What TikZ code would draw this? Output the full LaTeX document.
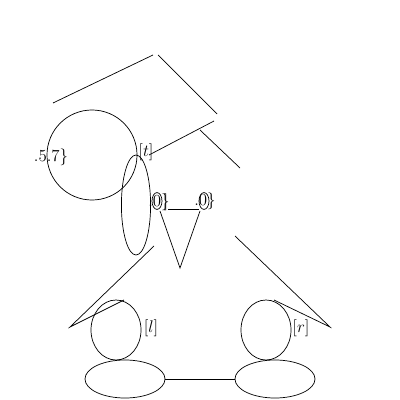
\documentclass[tikz,border=0pt]{standalone}
\usetikzlibrary{shapes.geometric}
\begin{document}
\begin{tikzpicture}[x=0.025cm,y=-0.025cm,
  ln/.style={line width=0.5pt},
  ell/.style={draw,ellipse,inner sep=0pt,line width=0.5pt},
  lbl/.style={inner sep=0pt,font=\large}]
\useasboundingbox (0,0) rectangle (400,400);
% coordinates of connector ends
\coordinate (a1) at (53,103); \coordinate (a2) at (153,55);
\coordinate (b1) at (158,55); \coordinate (b2) at (217,114);
\coordinate (c1) at (214,121); \coordinate (c2) at (149,155);
\coordinate (d1) at (200,130); \coordinate (d2) at (240,168);
\coordinate (e1) at (154,246); \coordinate (e2) at (70,327); \coordinate (e3) at (124,300);
\coordinate (f1) at (235,236); \coordinate (f2) at (330,327); \coordinate (f3) at (274,300);
\coordinate (t1) at (160,211); \coordinate (t2) at (200,211); \coordinate (t3) at (180,268);
\coordinate (h1) at (168,209); \coordinate (h2) at (199,209);
% shapes
\node[ell,minimum width=2.25cm,minimum height=2.25cm] (big) at (92,155) {};
\node[ell,minimum width=0.73cm,minimum height=2.5cm] (tall) at (136,205) {};
\node[ell,minimum width=1.25cm,minimum height=1.5cm] (lc) at (116,330) {};
\node[ell,minimum width=1.25cm,minimum height=1.5cm] (rc) at (266,330) {};
\node[ell,minimum width=2cm,minimum height=0.95cm] (lb) at (125,379) {};
\node[ell,minimum width=2cm,minimum height=0.95cm] (rb) at (275,379) {};
\node[ell,minimum width=0.25cm,minimum height=0.42cm] (o1) at (157,201) {};
\node[ell,minimum width=0.25cm,minimum height=0.42cm] (o2) at (204,201) {};
% labels
\node[lbl] (txt57) at (51,157) {.5.7\}};
\node[lbl] (tt) at (146,152) {[$t$]};
\node[lbl] (m1) at (159,202) {.0\}};
\node[lbl] (m1b) at (166,202) {]};
\node[lbl] (m2) at (205,201) {.0\}};
\node[lbl] (ll) at (151,328) {[$l$]};
\node[lbl] (rr) at (301,328) {[$r$]};
% connectors
\draw[ln] (a1) -- (a2);
\draw[ln] (b1) -- (b2);
\draw[ln] (c1) -- (c2);
\draw[ln] (d1) -- (d2);
\draw[ln] (e1) -- (e2) -- (e3);
\draw[ln] (f1) -- (f2) -- (f3);
\draw[ln] (t1) -- (t3) -- (t2);
\draw[ln] (h1) -- (h2);
\draw[ln] (lb) -- (rb);
\end{tikzpicture}
\end{document}
